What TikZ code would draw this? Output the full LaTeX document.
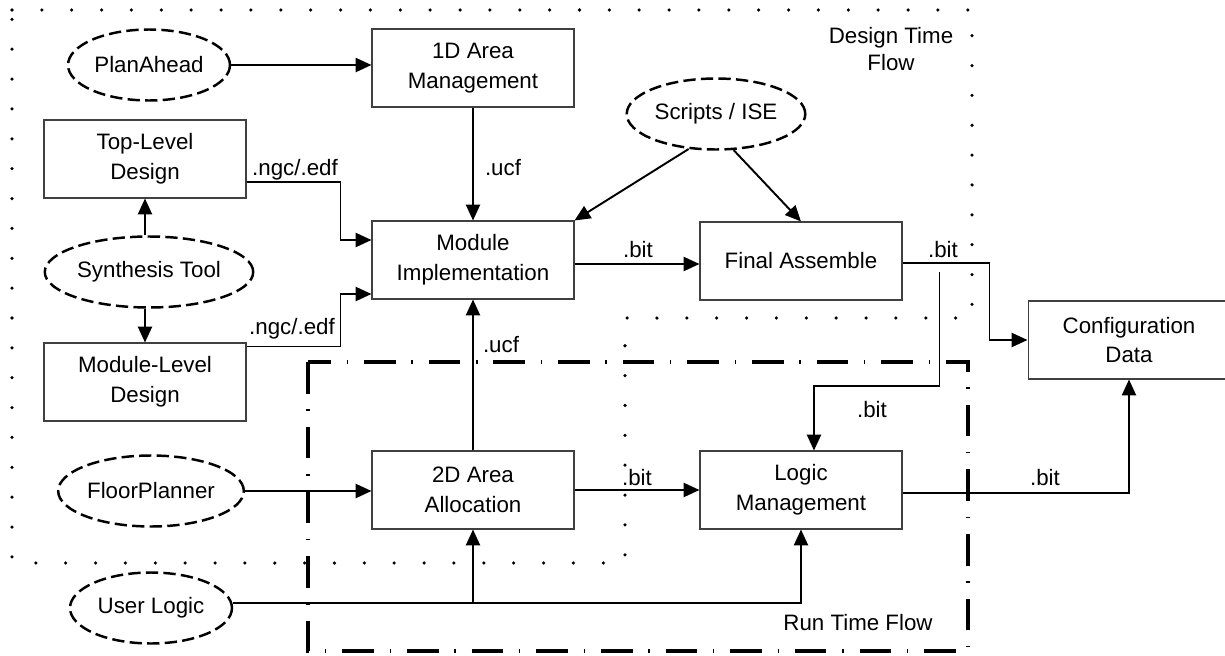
\documentclass[tikz,border=0pt]{standalone}
\usepackage{fontspec}
\setmainfont{Liberation Sans}
\usepackage{tikz}
\usetikzlibrary{shapes.geometric,arrows.meta,calc}
\tikzset{
  box/.style={draw=black!75,line width=0.6pt,align=center,font=\fontsize{12.7}{17}\selectfont,minimum width=4.04cm,minimum height=1.56cm,inner sep=2pt},
  tool/.style={draw,ellipse,dash pattern=on 7pt off 3pt,line width=1.4pt,align=center,font=\fontsize{12.7}{17}\selectfont,minimum width=3.24cm,minimum height=1.42cm,inner sep=1pt},
  arr/.style={-{Triangle[length=9pt,width=8pt]},line width=1.1pt},
  lbl/.style={font=\fontsize{12.7}{15}\selectfont,inner sep=1pt,align=center}
}
\begin{document}
\begin{tikzpicture}[x=0.02cm,y=-0.02cm,
 dsgn/.style={line width=2pt,line cap=round,dash pattern=on 0pt off 17pt},
 runt/.style={line width=2pt,dash pattern=on 18pt off 9pt on 0.8pt off 9pt}]
\useasboundingbox (0,0) rectangle (1225,656);
% flow regions
\draw[dsgn] (12,10) -- (972,10) -- (972,318) -- (625,318) -- (625,563) -- (12,563) -- cycle;
\draw[runt] (308,362) rectangle (968,651);
\node[lbl] (dtf) at (891,49) {Design Time\\Flow};
\node[lbl] (rtf) at (858,623) {Run Time Flow};
% tools
\node[tool] (plan) at (149,65) {PlanAhead};
\node[tool] (syn) at (149,272) {Synthesis Tool};
\node[tool] (scripts) at (716,114) {Scripts / ISE};
\node[tool] (floor) at (151,491) {FloorPlanner};
\node[tool] (user) at (151,608) {User Logic};
% design steps
\node[box] (area1) at (473,68) {1D Area\\Management};
\node[box] (top) at (145,159) {Top-Level\\Design};
\node[box] (impl) at (473,260) {Module\\Implementation};
\node[box] (final) at (801,261) {Final Assemble};
\node[box] (mod) at (145,382) {Module-Level\\Design};
\node[box] (config) at (1129,340) {Configuration\\Data};
\node[box] (area2) at (473,490) {2D Area\\Allocation};
\node[box] (logic) at (801,490) {Logic\\Management};
% design time connectors
\draw[arr] (plan.east) -- (plan.east -| area1.west);
\draw[arr] (area1) -- (impl);
\draw[arr] (syn.north -| top.south) -- (top.south);
\draw[arr] (syn.south -| mod.north) -- (mod.north);
\draw[arr] ($(top.east)+(0,23)$) -- ++(94,0) |- ($(impl.west)+(0,-20)$);
\draw[arr] ($(mod.north east)+(0,4)$) -- ++(94,0) |- ($(impl.west)+(0,34)$);
\draw[arr] (scripts.232) -- (impl.north east);
\draw[arr] (scripts.296) -- (final.north);
\draw[arr] ($(impl.east)+(0,4)$) -- ($(final.west)+(0,3)$);
\draw[arr] ($(final.east)+(0,2)$) -- ++(87,0) |- (config.west);
\coordinate (fb) at ($(final.east)+(37,11)$);
\draw[arr] (fb) -- ++(0,114) -| ($(logic.north)+(13,0)$);
% run time connectors
\draw[arr] (area2) -- (impl);
\draw[arr] (floor.east) -- (floor.east -| area2.west);
\draw[arr] (area2.east) -- (logic.west);
\coordinate (uj) at ($(user.east)+(0,-5)$);
\draw[arr] (uj) -| (logic.south);
\draw[arr] (uj -| area2.south) -- (area2.south);
\draw[arr] ($(logic.east)+(0,3)$) -| (config.south);
% file labels
\node[lbl] (n1) at (295,170) {.ngc/.edf};
\node[lbl] (n2) at (292,329) {.ngc/.edf};
\node[lbl] (u1) at (503,168) {.ucf};
\node[lbl] (u2) at (501,345) {.ucf};
\foreach \n/\x/\y in {b1/638/250, b2/943/250, b3/872/410, b4/637/478, b5/1045/478}
  \node[lbl] (\n) at (\x,\y) {.bit};
\end{tikzpicture}
\end{document}
